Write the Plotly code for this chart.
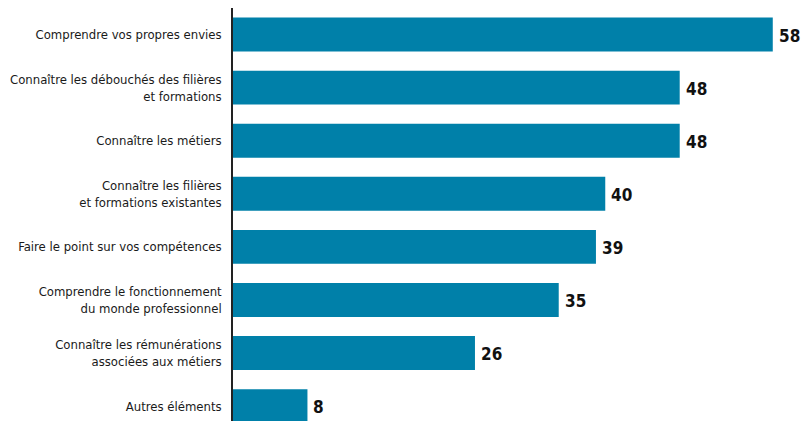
import plotly.graph_objects as go

categories = [
    "Comprendre vos propres envies",
    "Connaître les débouchés des filières<br>et formations",
    "Connaître les métiers",
    "Connaître les filières<br>et formations existantes",
    "Faire le point sur vos compétences",
    "Comprendre le fonctionnement<br>du monde professionnel",
    "Connaître les rémunérations<br>associées aux métiers",
    "Autres éléments",
]
values = [58, 48, 48, 40, 39, 35, 26, 8]

FONT = "DejaVu Sans Condensed, Liberation Sans Narrow, sans-serif"
BAR = "#0080A9"

fig = go.Figure(
    go.Bar(
        x=values,
        y=list(range(len(categories))),
        orientation="h",
        marker=dict(color=BAR, line=dict(width=0)),
        hoverinfo="skip",
    )
)

for i, v in enumerate(values):
    fig.add_annotation(
        x=v, y=i, xref="x", yref="y",
        text=f"<b>{v}</b>", showarrow=False,
        xanchor="left", yanchor="middle", xshift=4, yshift=-1,
        font=dict(family=FONT, size=17, color="#111111"),
    )

# page body adds an 8px offset; margins compensate so the plot lands where the reference has it
fig.update_layout(
    width=811, height=421,
    margin=dict(l=225, r=9, t=0, b=8, autoexpand=False),
    paper_bgcolor="white", plot_bgcolor="white",
    bargap=0.36,
    showlegend=False,
    font=dict(family=FONT, size=13, color="#1a1a1a"),
    xaxis=dict(range=[0, 62], visible=False, fixedrange=True, automargin=False),
    yaxis=dict(
        range=[7.28, -0.5],
        tickmode="array",
        tickvals=list(range(len(categories))),
        ticktext=categories,
        showline=True, linecolor="#222222", linewidth=1.5,
        showgrid=False, zeroline=False, ticks="",
        ticklabelstandoff=7,
        automargin=False,
        tickfont=dict(family=FONT, size=13, color="#1a1a1a"),
        fixedrange=True,
    ),
)

fig.write_html("out.html")
